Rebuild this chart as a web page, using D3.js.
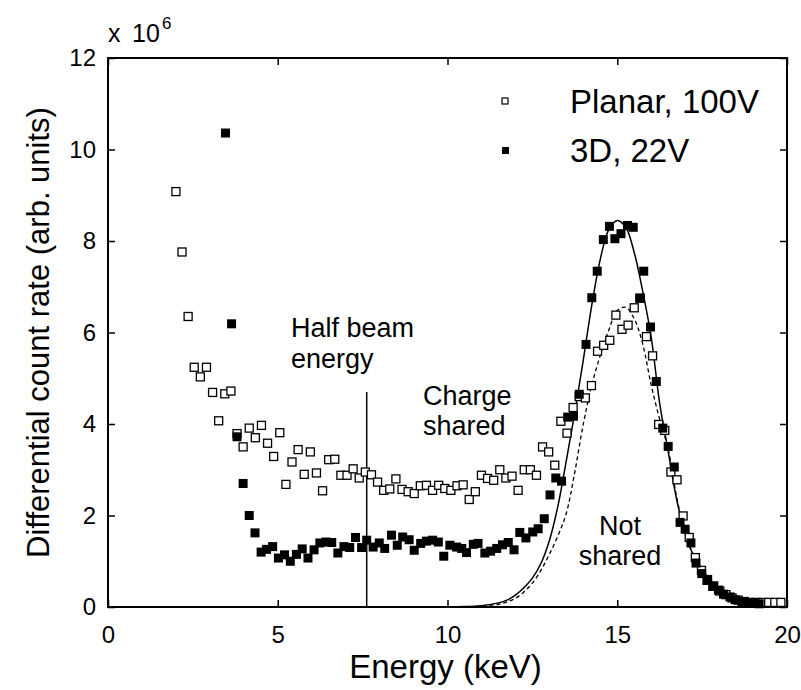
<!DOCTYPE html>
<html><head><meta charset="utf-8">
<script src="https://cdn.jsdelivr.net/npm/d3@7"></script>
<style>
body{margin:0;background:#fff}
svg{display:block}
text{font-family:"Liberation Sans",Arial,Helvetica,sans-serif;fill:#000}
</style>
</head><body>
<svg id="c" width="801" height="690"></svg>
<script>
// ---- data ----
const planarEnergy=[2.00,2.18,2.36,2.54,2.72,2.90,3.08,3.26,3.44,3.62,3.80,3.98,4.16,4.34,4.52,4.70,4.88,5.06,5.24,5.42,5.60,5.78,5.96,6.14,6.32,6.50,6.68,6.86,7.04,7.22,7.40,7.58,7.76,7.94,8.12,8.30,8.48,8.66,8.84,9.02,9.20,9.38,9.56,9.74,9.92,10.10,10.28,10.46,10.64,10.82,11.00,11.18,11.36,11.54,11.72,11.90,12.08,12.26,12.44,12.62,12.80,12.98,13.16,13.34,13.52,13.70,13.88,14.06,14.24,14.42,14.60,14.78,14.96,15.14,15.32,15.50,15.68,15.86,16.04,16.22,16.40,16.58,16.76,16.94,17.12,17.30,17.48,17.66,17.84,18.02,18.20,18.38,18.56,18.74,18.92,19.10,19.28,19.46,19.64,19.82];
const planarCounts=[9.08,7.76,6.35,5.24,5.03,5.24,4.69,4.07,4.66,4.72,3.79,3.50,3.91,3.70,3.97,3.58,3.29,3.81,2.68,3.17,3.44,2.90,3.39,2.93,2.54,3.22,3.23,2.88,2.88,3.02,2.82,2.95,2.89,2.73,2.55,2.58,2.80,2.57,2.52,2.48,2.65,2.66,2.55,2.66,2.59,2.55,2.65,2.67,2.35,2.52,2.88,2.81,2.77,3.00,2.82,2.86,2.55,3.00,3.00,2.88,3.50,3.39,3.10,4.06,3.80,4.36,4.60,4.57,4.84,5.59,5.72,5.83,6.38,6.07,6.16,6.54,6.75,5.91,5.49,3.99,3.86,2.95,2.78,1.99,1.52,1.08,0.80,0.60,0.46,0.35,0.27,0.20,0.15,0.12,0.10,0.10,0.10,0.10,0.10,0.10];

const threeDEnergy=[3.46,3.64,3.80,3.98,4.16,4.33,4.51,4.67,4.85,5.02,5.20,5.37,5.55,5.72,5.89,6.07,6.24,6.42,6.59,6.77,6.95,7.12,7.29,7.47,7.62,7.81,7.99,8.15,8.35,8.52,8.68,8.87,9.02,9.21,9.38,9.56,9.73,9.89,10.07,10.27,10.42,10.56,10.76,10.90,11.10,11.27,11.45,11.62,11.79,11.96,12.13,12.31,12.51,12.67,12.85,13.02,13.19,13.36,13.54,13.71,13.88,14.08,14.25,14.41,14.59,14.77,14.93,15.11,15.30,15.47,15.66,15.78,15.98,16.15,16.34,16.50,16.68,16.85,17.00,17.17,17.32,17.49,17.64,17.81,17.98,18.13,18.32,18.47,18.67,18.82,19.01,19.18];
const threeDCounts=[10.36,6.19,3.72,2.70,2.00,1.62,1.20,1.26,1.32,1.07,1.14,1.00,1.15,1.27,1.07,1.25,1.40,1.42,1.41,1.18,1.32,1.30,1.52,1.30,1.46,1.31,1.40,1.28,1.57,1.35,1.53,1.47,1.24,1.39,1.44,1.46,1.42,1.11,1.35,1.31,1.28,1.19,1.37,1.39,1.18,1.22,1.28,1.36,1.41,1.25,1.63,1.51,1.64,1.71,1.93,2.45,2.82,2.75,4.15,4.17,4.65,5.74,6.76,7.34,8.03,8.32,8.05,8.16,8.34,8.30,6.75,7.34,6.12,4.93,3.91,3.51,3.06,1.85,1.70,1.40,0.96,0.73,0.58,0.45,0.37,0.28,0.22,0.16,0.12,0.10,0.08,0.07];

const fitEnergy=[10.0,10.5,11.0,11.5,11.75,12.0,12.25,12.5,12.75,13.0,13.25,13.5,13.75,14.0,14.25,14.5,14.75,15.0,15.25,15.5,15.75,16.0,16.25,16.5,16.75,17.0,17.25,17.5,17.75,18.0,18.25,18.5,18.75,19.0,19.5];
const fit3D=[0.00,0.01,0.03,0.09,0.15,0.26,0.42,0.63,0.95,1.45,2.20,3.20,4.25,5.40,6.60,7.60,8.25,8.45,8.30,7.75,6.90,5.90,4.45,3.40,2.35,1.60,1.12,0.82,0.58,0.40,0.27,0.18,0.12,0.08,0.04];
const fitPlanar=[0.00,0.00,0.02,0.06,0.11,0.19,0.33,0.52,0.80,1.15,1.55,2.05,2.95,4.00,4.85,5.50,6.05,6.48,6.55,6.30,5.75,4.85,4.10,3.45,2.40,1.62,1.13,0.82,0.58,0.40,0.27,0.18,0.12,0.08,0.04];

const halfBeamEnergy=7.62, halfBeamTop=4.70;
const xTicks=[0,5,10,15,20];
const yTicks=[0,2,4,6,8,10,12];
const seriesNames=["Planar, 100V","3D, 22V"];

// ---- layout ----
const svg=d3.select("#c");
const L=108,R=787,T=58,B=607;
const x=d3.scaleLinear().domain([0,20]).range([L,R]);
const y=d3.scaleLinear().domain([0,12]).range([B,T]);

// fitted curves
const line=d3.line().x(d=>x(d[0])).y(d=>y(d[1])).curve(d3.curveCatmullRom.alpha(0.5));
svg.append("path").datum(fitEnergy.map((e,i)=>[e,fitPlanar[i]]))
  .attr("d",line).attr("fill","none").attr("stroke","#000").attr("stroke-width",1.3).attr("stroke-dasharray","4,3");
svg.append("path").datum(fitEnergy.map((e,i)=>[e,fit3D[i]]))
  .attr("d",line).attr("fill","none").attr("stroke","#000").attr("stroke-width",1.5);

// half beam energy marker line
svg.append("line").attr("x1",x(halfBeamEnergy)).attr("x2",x(halfBeamEnergy))
  .attr("y1",y(0)).attr("y2",y(halfBeamTop)).attr("stroke","#000").attr("stroke-width",1.5);

// markers
const s=8;
svg.append("g").selectAll("rect").data(planarEnergy.map((e,i)=>[e,planarCounts[i]])).join("rect")
  .attr("x",d=>x(d[0])-s/2).attr("y",d=>y(d[1])-s/2).attr("width",s).attr("height",s)
  .attr("fill","#fff").attr("stroke","#000").attr("stroke-width",1.3);
svg.append("g").selectAll("rect").data(threeDEnergy.map((e,i)=>[e,threeDCounts[i]])).join("rect")
  .attr("x",d=>x(d[0])-s/2-0.5).attr("y",d=>y(d[1])-s/2-0.5).attr("width",s+1).attr("height",s+1)
  .attr("fill","#000");

// axes (ticks inside)
const fs=24;
const gx=svg.append("g").attr("transform",`translate(0,${B})`)
  .call(d3.axisBottom(x).tickValues(xTicks).tickSize(-7).tickPadding(19).tickFormat(d3.format("d")));
const gxt=svg.append("g").attr("transform",`translate(0,${T})`)
  .call(d3.axisTop(x).tickValues(xTicks).tickSize(-7).tickFormat(""));
const gy=svg.append("g").attr("transform",`translate(${L},0)`)
  .call(d3.axisLeft(y).tickValues(yTicks).tickSize(-7).tickPadding(12).tickFormat(d3.format("d")));
const gyr=svg.append("g").attr("transform",`translate(${R},0)`)
  .call(d3.axisRight(y).tickValues(yTicks).tickSize(-7).tickFormat(""));
[gx,gxt,gy,gyr].forEach(g=>{
  g.select(".domain").remove();
  g.selectAll(".tick line").attr("stroke","#000").attr("stroke-width",1.5);
  g.selectAll(".tick text").attr("font-size",fs).attr("font-family",null).attr("fill","#000");
});
svg.append("rect").attr("x",L).attr("y",T).attr("width",R-L).attr("height",B-T)
  .attr("fill","none").attr("stroke","#000").attr("stroke-width",2);

// exponent
svg.append("text").attr("x",108).attr("y",42).attr("font-size",25).text("x");
svg.append("text").attr("x",132).attr("y",42).attr("font-size",25).text("10");
svg.append("text").attr("x",162).attr("y",29).attr("font-size",17).text("6");

// axis labels
svg.append("text").attr("x",(L+R)/2-2).attr("y",678).attr("text-anchor","middle").attr("font-size",33).text("Energy (keV)");
svg.append("text").attr("transform",`translate(49,${(T+B)/2}) rotate(-90)`).attr("text-anchor","middle").attr("font-size",31).text("Differential count rate (arb. units)");

// annotations
const ann=[["Half beam",291,337,"start"],["energy",291,368,"start"],["Charge",423,405,"start"],["shared",423,435,"start"],["Not",620,535,"middle"],["shared",620,565,"middle"]];
ann.forEach(a=>svg.append("text").attr("x",a[1]).attr("y",a[2]).attr("text-anchor",a[3]).attr("font-size",27).text(a[0]));

// legend
svg.append("rect").attr("x",502).attr("y",98).attr("width",6).attr("height",6).attr("fill","#fff").attr("stroke","#000").attr("stroke-width",1.2);
svg.append("rect").attr("x",502).attr("y",147).attr("width",7).attr("height",7).attr("fill","#000");
svg.append("text").attr("x",570).attr("y",113).attr("font-size",33).text(seriesNames[0]);
svg.append("text").attr("x",570).attr("y",162).attr("font-size",33).text(seriesNames[1]);
</script>
</body></html>
